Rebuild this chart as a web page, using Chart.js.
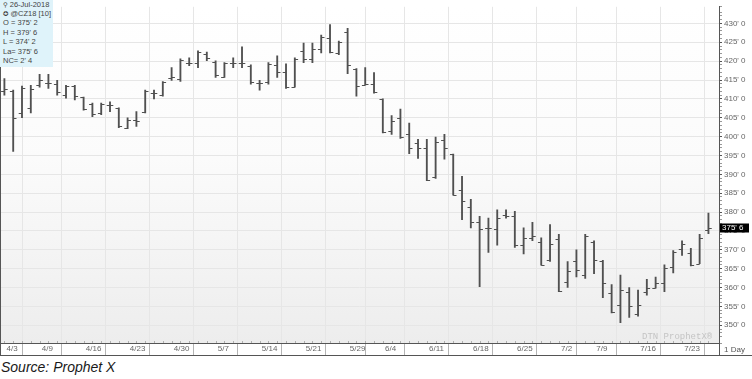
<!DOCTYPE html>
<html><head><meta charset="utf-8">
<script src="https://cdn.jsdelivr.net/npm/chart.js@4.4.1/dist/chart.umd.min.js"></script>
<style>
html,body{margin:0;padding:0;background:#fff;width:752px;height:379px;overflow:hidden;}
#wrap{position:relative;width:752px;height:356px;}
#info{position:absolute;left:0;top:0;width:53px;height:67px;background:#dff3fa;font:7.5px "Liberation Sans",Arial,sans-serif;color:#444;}
#info div{position:absolute;left:3px;white-space:nowrap;line-height:9px;}
#info span{font-family:"DejaVu Sans",sans-serif;font-size:6.5px;margin-right:2px;}
#mark{position:absolute;left:642px;top:332px;font:9px "Liberation Mono","DejaVu Sans Mono",monospace;color:#c4c4c4;white-space:nowrap;}
#src{position:absolute;left:1px;top:359px;font:italic 14px "Liberation Sans",Arial,sans-serif;color:#1a1a1a;white-space:nowrap;}
</style></head>
<body>
<div id="wrap"><canvas id="c" width="752" height="356"></canvas>
<div id="info"></div>
<div id="mark">DTN ProphetX®</div>
</div>
<div id="src">Source: Prophet X</div>
<script>
const dates = ['4/3','4/4','4/5','4/6',
'4/9','4/10','4/11','4/12','4/13',
'4/16','4/17','4/18','4/19','4/20',
'4/23','4/24','4/25','4/26','4/27',
'4/30','5/1','5/2','5/3','5/4',
'5/7','5/8','5/9','5/10','5/11',
'5/14','5/15','5/16','5/17','5/18',
'5/21','5/22','5/23','5/24','5/25',
'5/29','5/30','5/31','6/1',
'6/4','6/5','6/6','6/7','6/8',
'6/11','6/12','6/13','6/14','6/15',
'6/18','6/19','6/20','6/21','6/22',
'6/25','6/26','6/27','6/28','6/29',
'7/2','7/3','7/5','7/6',
'7/9','7/10','7/11','7/12','7/13',
'7/16','7/17','7/18','7/19','7/20',
'7/23','7/24','7/25','7/26'];

const openP = [412.0,412.0,406.3,407.6,413.6,414.1,413.9,411.0,413.3,410.5,
408.6,406.3,408.4,407.6,402.4,404.5,406.6,411.5,411.0,415.4,
415.2,419.6,419.6,421.9,419.8,415.9,419.6,419.6,418.8,414.1,
414.4,419.0,417.0,413.1,422.7,420.6,423.2,426.1,422.2,427.7,
417.8,413.6,413.9,410.0,401.4,404.9,400.6,398.2,396.9,389.3,
399.0,395.4,385.8,381.3,377.3,375.8,375.6,379.3,379.0,371.2,
373.2,372.1,367.2,372.8,361.5,366.9,363.3,372.1,366.9,358.5,
355.3,358.7,353.0,358.9,359.8,361.1,365.4,370.2,369.1,366.3,375.25];
const highP = [415.4,412.3,413.4,413.6,416.5,416.5,414.9,413.6,413.6,410.5,
408.9,408.9,409.2,407.6,405.0,406.6,412.3,412.3,414.6,418.3,
420.6,420.9,422.7,422.4,420.1,419.6,420.9,423.8,419.0,414.9,
419.6,421.4,419.3,420.9,424.8,424.8,426.9,429.7,425.3,428.7,
418.0,418.3,417.0,410.0,405.6,407.3,403.6,399.3,399.3,399.9,
400.6,395.4,389.5,383.4,378.9,378.4,380.6,380.6,380.2,375.8,
377.3,373.2,376.7,374.1,366.9,370.0,374.1,372.4,367.2,360.8,
363.3,360.0,359.3,362.2,362.8,366.0,369.8,372.4,370.4,374.1,379.75];
const lowP = [411.0,396.1,405.0,406.3,413.1,412.8,411.0,410.2,409.7,407.0,
405.3,405.8,406.6,402.4,402.1,402.7,406.3,410.0,410.7,414.9,
414.6,418.8,418.3,420.1,415.7,415.7,418.3,418.3,413.9,412.3,
413.9,415.7,412.8,413.1,419.6,419.6,422.2,422.2,421.7,416.7,
410.7,413.6,411.5,401.0,400.6,399.5,395.5,394.2,388.3,388.9,
394.0,384.5,378.0,375.8,360.2,369.3,371.2,378.4,370.6,368.9,
372.4,365.9,366.9,358.9,360.0,362.8,362.4,363.7,357.3,353.3,
350.7,352.1,352.4,358.0,359.8,358.9,363.9,368.5,365.7,366.3,374.25];
const closeP = [412.5,405.0,413.0,412.5,414.9,414.1,411.8,413.3,410.7,407.3,
406.0,408.6,408.4,402.7,404.5,404.2,412.0,411.5,414.4,415.9,
420.4,419.6,422.4,420.9,416.2,419.6,419.6,419.6,414.4,414.1,
419.3,417.0,413.1,420.6,420.6,423.2,426.4,422.4,425.1,419.0,
413.4,413.9,411.8,401.2,404.2,399.9,396.9,396.9,388.4,398.7,
397.1,384.5,383.0,377.3,375.6,375.8,378.4,378.9,371.2,373.2,
373.7,366.0,371.5,359.1,364.3,364.6,373.7,367.2,361.1,353.5,
359.3,355.0,355.4,359.8,361.1,365.2,369.3,371.5,366.0,373.25,375.75];

const tickLabels = ['4/3','4/9','4/16','4/23','4/30','5/7','5/14','5/21','5/29',
'6/4','6/11','6/18','6/25','7/2','7/9','7/16','7/23'];
const yMin = 345.3, yMax = 434.4;

function fmt8(v){
  let w = Math.floor(v + 1e-9);
  let e = Math.round((v - w) * 8);
  if (e === 8) { w += 1; e = 0; }
  return w + "' " + e;
}

const last = dates.length - 1;
const infoLines = [
  ['⚲','26-Jul-2018'],
  ['✪','@CZ18 [10]'],
  ['','O = ' + fmt8(openP[last])],
  ['','H = ' + fmt8(highP[last])],
  ['','L = ' + fmt8(lowP[last])],
  ['','La= ' + fmt8(closeP[last])],
  ['','NC= ' + fmt8(closeP[last] - closeP[last-1])]
];
const info = document.getElementById('info');
infoLines.forEach((l, k) => {
  const d = document.createElement('div');
  d.style.top = (-0.5 + k * 9.45) + 'px';
  if (l[0]) { const s = document.createElement('span'); s.textContent = l[0]; d.appendChild(s); }
  d.appendChild(document.createTextNode(l[1]));
  info.appendChild(d);
});

const ohlcPlugin = {
  id: 'ohlc',
  beforeDraw(chart) {
    const {ctx, chartArea: a} = chart;
    const g = ctx.createLinearGradient(0, a.top, 0, a.bottom);
    g.addColorStop(0, '#ffffff');
    g.addColorStop(0.45, '#fbfbfb');
    g.addColorStop(1, '#ededed');
    ctx.save();
    ctx.fillStyle = g;
    ctx.fillRect(a.left, a.top, a.right - a.left, a.bottom - a.top);
    ctx.restore();
  },
  afterDatasetsDraw(chart) {
    const {ctx} = chart;
    const xs = chart.scales.x, ys = chart.scales.y;
    ctx.save();
    ctx.strokeStyle = '#505050';
    ctx.lineWidth = 1;
    for (let i = 0; i < dates.length; i++) {
      const x = xs.getPixelForValue(i);
      const yo = Math.round(ys.getPixelForValue(openP[i])) + 0.5;
      const yc = Math.round(ys.getPixelForValue(closeP[i])) + 0.5;
      ctx.beginPath();
      ctx.moveTo(x - 3.3, yo); ctx.lineTo(x, yo);
      ctx.moveTo(x, yc); ctx.lineTo(x + 3.3, yc);
      ctx.stroke();
    }
    ctx.restore();
  },
  afterDraw(chart) {
    const {ctx, chartArea: a} = chart;
    const xs = chart.scales.x, ys = chart.scales.y;
    ctx.save();
    ctx.strokeStyle = '#b0b0b0';
    ctx.lineWidth = 1;
    for (let i = 0; i < dates.length; i++) {
      const x = Math.round(xs.getPixelForValue(i)) + 0.5;
      ctx.beginPath(); ctx.moveTo(x, a.bottom - 2); ctx.lineTo(x, a.bottom); ctx.stroke();
    }
    ctx.strokeStyle = '#555';
    ctx.beginPath();
    ctx.moveTo(0.5, 0); ctx.lineTo(0.5, 356);
    ctx.moveTo(0, 355.5); ctx.lineTo(752, 355.5);
    ctx.moveTo(a.right + 0.5, a.bottom); ctx.lineTo(a.right + 0.5, 356);
    ctx.stroke();
    ctx.fillStyle = '#555';
    ctx.font = '8px "Liberation Sans", Arial, sans-serif';
    ctx.textBaseline = 'middle';
    ctx.textAlign = 'left';
    ctx.fillText('1 Day', a.right + 5, 349.5);
    const yl = ys.getPixelForValue(closeP[last]);
    ctx.fillStyle = '#000';
    ctx.fillRect(a.right + 1, Math.round(yl) - 4.5, 29, 9);
    ctx.fillStyle = '#fff';
    ctx.fillText(fmt8(closeP[last]), a.right + 3, Math.round(yl));
    ctx.restore();
  }
};

new Chart(document.getElementById('c'), {
  type: 'bar',
  data: {
    datasets: [{
      data: dates.map((d, i) => ({x: i, y: [lowP[i], highP[i]]})),
      backgroundColor: '#505050',
      borderWidth: 0,
      barThickness: 1.2
    }]
  },
  options: {
    responsive: false,
    animation: false,
    devicePixelRatio: 1,
    layout: {padding: 0},
    plugins: {legend: {display: false}, tooltip: {enabled: false}},
    scales: {
      x: {
        type: 'linear',
        position: 'bottom',
        min: -0.5,
        max: 81.2,
        offset: false,
        afterBuildTicks: s => { s.ticks = tickLabels.map(l => ({value: dates.indexOf(l)})); },
        afterFit: s => { s.height = 13; },
        grid: {color: '#e6e6e6', lineWidth: 1, tickLength: 12, tickColor: '#b4b4b4', drawOnChartArea: true},
        border: {color: '#555', width: 1},
        ticks: {
          autoSkip: false, maxRotation: 0, minRotation: 0, align: 'start', padding: -11,
          color: '#666', font: {size: 8, family: '"Liberation Sans", Arial, sans-serif'},
          callback: v => ' ' + dates[v]
        }
      },
      y: {
        type: 'linear',
        position: 'right',
        min: yMin,
        max: yMax,
        afterFit: s => { s.width = 33; },
        grid: {
          color: c => (c.tick && Math.abs(c.tick.value % 5) < 1e-6) ? '#e6e6e6' : 'rgba(0,0,0,0)',
          tickColor: c => (c.tick && Math.abs(c.tick.value % 5) < 1e-6) ? '#555' : '#999',
          tickLength: 3
        },
        border: {color: '#555', width: 1},
        ticks: {
          stepSize: 1, autoSkip: false, padding: 2,
          color: '#666', font: {size: 8, family: '"Liberation Sans", Arial, sans-serif'},
          callback: v => (Math.abs(v % 5) < 1e-6) ? v + "' 0" : ''
        }
      }
    }
  },
  plugins: [ohlcPlugin]
});
</script>
</body></html>
